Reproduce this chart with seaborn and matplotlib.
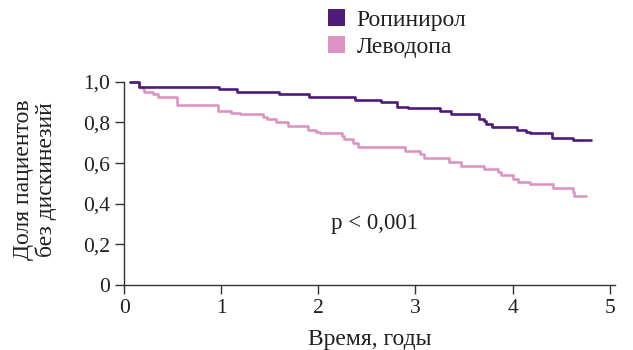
import matplotlib
matplotlib.use("Agg")
import matplotlib.pyplot as plt
from matplotlib.patches import Patch
import seaborn as sns
import pandas as pd

# Data (Kaplan-Meier style step curves)
ropi_t = [0.06, 0.15, 0.98, 1.16, 1.60, 1.90, 2.38, 2.65, 2.81, 2.92, 3.25, 3.37,
          3.65, 3.71, 3.73, 3.79, 4.04, 4.14, 4.18, 4.41, 4.62, 4.81]
ropi_s = [1.0, 0.977, 0.967, 0.952, 0.942, 0.925, 0.911, 0.900, 0.878, 0.870, 0.859, 0.844,
          0.818, 0.809, 0.792, 0.777, 0.764, 0.755, 0.747, 0.726, 0.714, 0.714]
levo_t = [0.06, 0.155, 0.18, 0.21, 0.295, 0.35, 0.54, 0.97, 1.10, 1.19, 1.43, 1.47,
          1.56, 1.69, 1.89, 1.98, 2.02, 2.24, 2.26, 2.36, 2.41, 2.89, 3.05, 3.09,
          3.35, 3.47, 3.71, 3.85, 3.88, 4.00, 4.06, 4.18, 4.42, 4.62, 4.63, 4.76]
levo_s = [1.0, 0.977, 0.969, 0.952, 0.941, 0.928, 0.887, 0.859, 0.849, 0.842, 0.829, 0.816,
          0.801, 0.785, 0.764, 0.755, 0.747, 0.734, 0.719, 0.701, 0.678, 0.660, 0.645, 0.627,
          0.607, 0.586, 0.571, 0.558, 0.542, 0.522, 0.509, 0.496, 0.476, 0.458, 0.438, 0.438]
groups = ["Ропинирол", "Леводопа"]
x_ticks = [0, 1, 2, 3, 4, 5]
y_ticks = [0, 0.2, 0.4, 0.6, 0.8, 1.0]
y_tick_labels = ["0", "0,2", "0,4", "0,6", "0,8", "1,0"]
colors = {"Ропинирол": "#4e1b7b", "Леводопа": "#dc94c3"}

df = pd.concat([
    pd.DataFrame({"t": ropi_t, "s": ropi_s, "g": groups[0]}),
    pd.DataFrame({"t": levo_t, "s": levo_s, "g": groups[1]}),
])

sns.set_theme(style="ticks")
plt.rcParams["font.family"] = ["Liberation Serif", "DejaVu Serif"]
text_color = "#231f20"

fig = plt.figure(figsize=(6.33, 3.5), dpi=100)
ax = fig.add_axes([0.196, 0.186, 0.775, 0.580])

sns.lineplot(data=df, x="t", y="s", hue="g", palette=colors, hue_order=groups[::-1],
             estimator=None, drawstyle="steps-post", linewidth=1.9, ax=ax,
             legend=False, clip_on=False)

ax.set_xlim(0, 5.05)
ax.set_ylim(0, 1.0)
ax.set_xticks(x_ticks)
ax.set_xticklabels([str(v) for v in x_ticks])
ax.set_yticks(y_ticks)
ax.set_yticklabels(y_tick_labels)
for sp in ["top", "right"]:
    ax.spines[sp].set_visible(False)
for sp in ["left", "bottom"]:
    ax.spines[sp].set_color("#333333")
    ax.spines[sp].set_linewidth(1.0)
ax.tick_params(axis="both", colors="#333333", labelcolor=text_color, labelsize=15.5,
               length=6.5, width=1.0, direction="out", pad=3.5)

ax.set_xlabel("Время, годы", fontsize=17, color=text_color, labelpad=8)
ax.set_ylabel("")
fig.text(35 / 633, 1 - 180 / 350, "Доля пациентов\nбез дискинезий", rotation=90,
         fontsize=17, color=text_color, ha="center", va="center",
         linespacing=1.08, multialignment="center")

ax.text(2.58, 0.30, "p < 0,001", fontsize=16.5, color=text_color, ha="center", va="center")

handles = [Patch(facecolor=colors[g], edgecolor="none", label=g) for g in groups]
fig.legend(handles=handles, loc="upper left", bbox_to_anchor=(328 / 633, 1 - 9 / 350),
           frameon=False, fontsize=17, handlelength=0.72, handleheight=0.72,
           handletextpad=0.5, labelspacing=0.22, borderaxespad=0.0, borderpad=0.0,
           labelcolor=text_color)

fig.savefig("out.png", dpi=100)
